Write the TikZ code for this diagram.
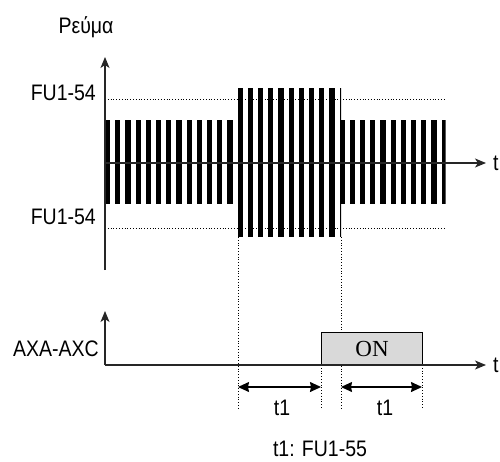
\documentclass[tikz,border=0pt]{standalone}
\usepackage{fontspec}
\setmainfont{Liberation Sans}
\newfontfamily\serifon{Liberation Serif}
\usetikzlibrary{arrows.meta}
\newcommand{\tallstr}[1]{\scalebox{1}[1.15]{#1}}
\begin{document}
\begin{tikzpicture}[x=1pt,y=-1pt,
  axis/.style={line width=1.3pt,draw=black!85},
  axarrow/.style={-{Stealth[length=11pt,width=9pt,inset=3pt]}},
  dimarrow/.style={line width=1.3pt,{Stealth[length=11pt,width=10pt,inset=1pt]}-{Stealth[length=11pt,width=10pt,inset=1pt]}},
  dots/.style={dotted,line width=0.8pt},
  lbl/.style={font=\fontsize{19.5}{22}\selectfont,inner sep=0pt},
  bar/.style={fill=black}]
\useasboundingbox (0,0) rectangle (500,461);
% bars
\begin{scope}
\clip (105,0) rectangle (445.5,461);
\foreach \i in {0,...,33}{
  \fill[bar] ({105+10.2*\i},120) rectangle ++(5.2,84);
}
\end{scope}
\begin{scope}
\clip (238,0) rectangle (341,461);
\foreach \i in {13,...,23}{
  \fill[bar] ({105+10.2*\i},88) rectangle ++(5.2,149);
}
\end{scope}
% dotted guides
\coordinate (hu0) at (105,99); \coordinate (hu1) at (445,99);
\coordinate (hl0) at (105,228); \coordinate (hl1) at (445,228);
\draw[dots] (hu0) -- (hu1);
\draw[dots] (hl0) -- (hl1);
\coordinate (va0) at (238,237); \coordinate (va1) at (238,408);
\coordinate (vb0) at (341,237); \coordinate (vb1) at (341,408);
\coordinate (vc0) at (321,365); \coordinate (vc1) at (321,408);
\coordinate (vd0) at (422,365); \coordinate (vd1) at (422,408);
\draw[dots] (va0) -- (va1);
\draw[dots] (vb0) -- (vb1);
\draw[dots] (vc0) -- (vc1);
\draw[dots] (vd0) -- (vd1);
% upper axes
\coordinate (o1) at (105,270); \coordinate (y1) at (105,57);
\coordinate (x0) at (105,163); \coordinate (x1) at (486,163);
\draw[axis,axarrow] (o1) -- (y1);
\draw[axis,axarrow] (x0) -- (x1);
% lower axes
\coordinate (o2) at (105,365); \coordinate (y2) at (105,311);
\coordinate (x2) at (486,365);
\node[draw=black,line width=1pt,fill=black!15,minimum width=101pt,minimum height=32pt,inner sep=0pt,anchor=south west,font=\serifon\fontsize{23}{25}\selectfont] (on) at (321,365) {ON};
\draw[axis,axarrow] (o2) -- (y2);
\draw[axis,axarrow] (o2) -- (x2);
% t1 arrows
\coordinate (a0) at (238,387); \coordinate (a1) at (321,387);
\coordinate (b0) at (341,387); \coordinate (b1) at (422,387);
\draw[dimarrow] (a0) -- (a1);
\draw[dimarrow] (b0) -- (b1);
% labels
\node[lbl] (cur) at (86,27) {\tallstr{Ρεύμα}};
\node[lbl,anchor=east] (fu1) at (96,93) {\tallstr{FU1-54}};
\node[lbl,anchor=east] (fu2) at (96,217) {\tallstr{FU1-54}};
\node[lbl,anchor=west] (t1ax) at (493,163) {\tallstr{t}};
\node[lbl,anchor=west] (t2ax) at (493,365) {\tallstr{t}};
\node[lbl,anchor=east] (axa) at (99,349) {\tallstr{AXA-AXC}};
\node[lbl] (l1) at (282,408) {\tallstr{t1}};
\node[lbl] (l2) at (385,408) {\tallstr{t1}};
\node[lbl] (note) at (320,449) {\tallstr{t1: FU1-55}};
\end{tikzpicture}
\end{document}
